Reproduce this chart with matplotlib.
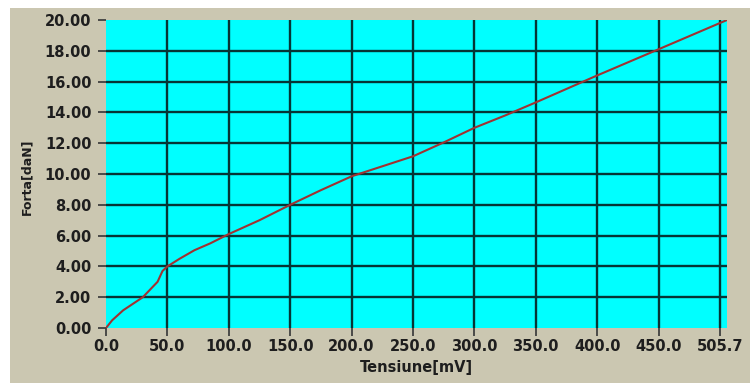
import matplotlib.pyplot as plt
from matplotlib.patches import Rectangle

# curve
tensiune = [0, 5, 14, 30, 42, 46, 50, 60, 72, 85, 100, 125, 150, 175, 200,
            225, 250, 275, 300, 325, 350, 400, 450, 505.7]
forta = [0, 0.5, 1.15, 2.0, 3.0, 3.7, 4.0, 4.5, 5.05, 5.5, 6.1, 7.0, 8.0, 8.95,
         9.85, 10.5, 11.15, 12.05, 13.0, 13.8, 14.65, 16.4, 18.1, 20.0]

x_ticks = [0, 50, 100, 150, 200, 250, 300, 350, 400, 450, 500]
x_labels = ['0.0', '50.0', '100.0', '150.0', '200.0', '250.0', '300.0',
            '350.0', '400.0', '450.0', '505.7']
y_ticks = [0, 2, 4, 6, 8, 10, 12, 14, 16, 18, 20]
y_labels = ['%.2f' % v for v in y_ticks]

fig = plt.figure(figsize=(7.56, 3.83), dpi=100, facecolor='white')
# beige panel behind the chart
fig.patches.append(Rectangle((10 / 756, 0), 740 / 756, 1 - 8 / 383,
                             transform=fig.transFigure, facecolor='#cbc7b1',
                             edgecolor='none', zorder=-10))

ax = fig.add_axes([106 / 756, 1 - 328 / 383, 621 / 756, 308 / 383])
ax.set_zorder(5)
ax.set_facecolor('#00ffff')
ax.set_xlim(0, 505.7)
ax.set_ylim(0, 20)

for v in x_ticks[1:]:
    ax.axvline(v, color='#053535', lw=1.7, zorder=1)
for v in y_ticks[1:-1]:
    ax.axhline(v, color='#053535', lw=1.7, zorder=1)

ax.plot(tensiune, forta, color='#a03232', lw=1.5, zorder=3)

for s in ax.spines.values():
    s.set_visible(False)

ax.set_xticks(x_ticks)
ax.set_xticklabels(x_labels)
ax.set_yticks(y_ticks)
ax.set_yticklabels(y_labels)
ax.tick_params(direction='out', length=5.5, width=1.3, color='#404040',
               labelsize=10.5, labelcolor='#1e1e1e', pad=2.5)
ax.tick_params(axis='y', pad=5)
for lab in ax.get_xticklabels() + ax.get_yticklabels():
    lab.set_fontweight('bold')

ax.set_xlabel('Tensiune[mV]', fontsize=10.5, fontweight='bold',
              color='#1e1e1e', va='center')
ax.xaxis.set_label_coords(0.5, -0.127)
ax.set_ylabel('Forta[daN]', fontsize=9, fontweight='bold',
              color='#1e1e1e', va='center')
ax.yaxis.set_label_coords(-0.127, 0.49)

fig.savefig('out.png', dpi=100, facecolor=fig.get_facecolor())
